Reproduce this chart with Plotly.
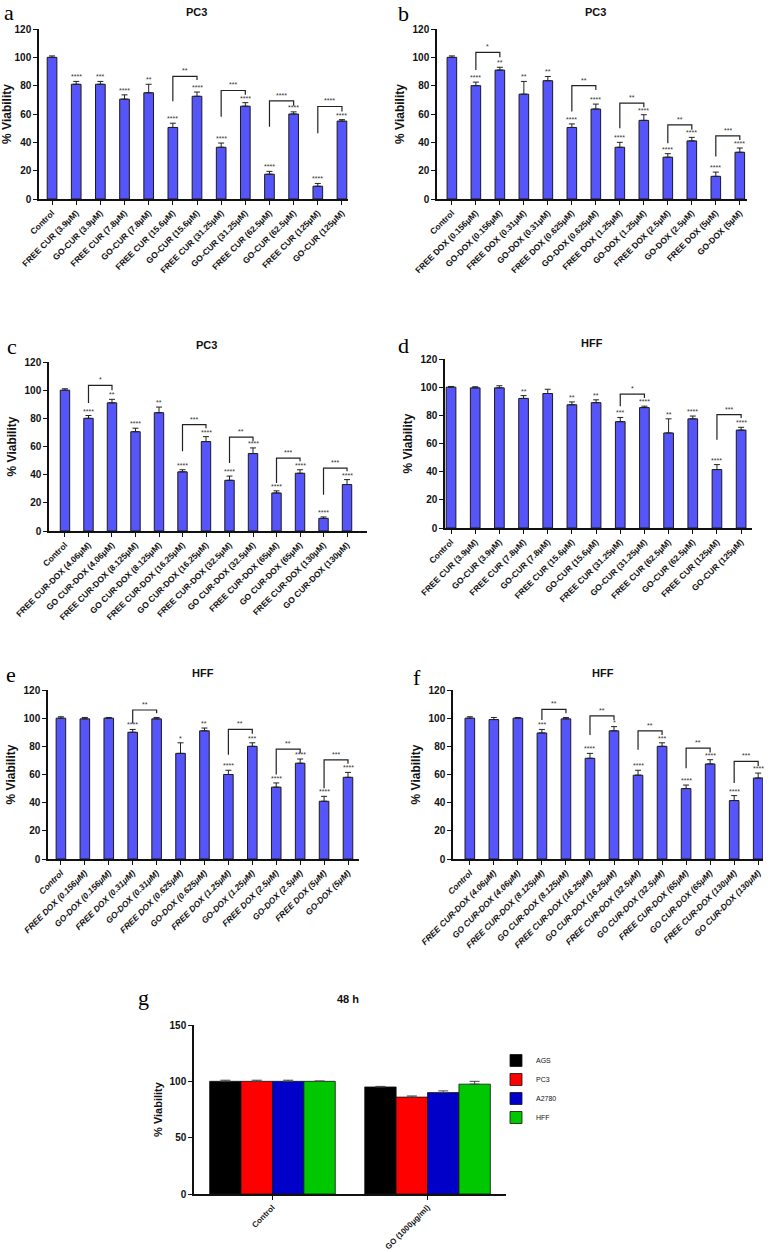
import plotly.graph_objects as go

W, H = 770, 1252

# ---------------- category labels ----------------
labels_cur = ["Control", "FREE CUR (3.9μM)", "GO-CUR (3.9μM)", "FREE CUR (7.8μM)", "GO-CUR (7.8μM)",
              "FREE CUR (15.6μM)", "GO-CUR (15.6μM)", "FREE CUR (31.25μM)", "GO-CUR (31.25μM)",
              "FREE CUR (62.5μM)", "GO-CUR (62.5μM)", "FREE CUR (125μM)", "GO-CUR (125μM)"]
labels_dox = ["Control", "FREE DOX (0.156μM)", "GO-DOX (0.156μM)", "FREE DOX (0.31μM)", "GO-DOX (0.31μM)",
              "FREE DOX (0.625μM)", "GO-DOX (0.625μM)", "FREE DOX (1.25μM)", "GO-DOX (1.25μM)",
              "FREE DOX (2.5μM)", "GO-DOX (2.5μM)", "FREE DOX (5μM)", "GO-DOX (5μM)"]
labels_cd = ["Control", "FREE CUR-DOX (4.06μM)", "GO CUR-DOX (4.06μM)", "FREE CUR-DOX (8.125μM)",
             "GO CUR-DOX (8.125μM)", "FREE CUR-DOX (16.25μM)", "GO CUR-DOX (16.25μM)",
             "FREE CUR-DOX (32.5μM)", "GO CUR-DOX (32.5μM)", "FREE CUR-DOX (65μM)", "GO CUR-DOX (65μM)",
             "FREE CUR-DOX (130μM)", "GO CUR-DOX (130μM)"]

# ---------------- panel a: PC3, CUR ----------------
a_vals = [100, 81, 81, 70.5, 75, 50.5, 72.5, 36.5, 65.5, 17.5, 60, 9, 55]
a_err = [1, 2, 2, 3, 6, 3, 3, 3, 2.5, 2, 1.5, 2, 1]
a_stars = ["", "****", "***", "****", "**", "****", "****", "****", "****", "****", "****", "****", "****"]
a_brackets = [(5, 6, "**", 86.5, 69, 84), (7, 8, "***", 76.6, 58, 73.6),
              (9, 10, "****", 69.3, 51, 65.8), (11, 12, "****", 65.3, 46.4, 61.8)]

# ---------------- panel b: PC3, DOX ----------------
b_vals = [100, 80, 91, 74, 83.5, 50.5, 63.5, 36.5, 55.5, 29.5, 41, 16, 33]
b_err = [1, 2.5, 2, 9, 3, 2.5, 3.5, 3.5, 4, 2.5, 2.5, 3, 3]
b_stars = ["", "****", "**", "**", "**", "****", "****", "****", "****", "****", "****", "****", "****"]
b_brackets = [(1, 2, "*", 103.5, 91, 100), (5, 6, "**", 80, 61.8, 77), (7, 8, "**", 67.7, 50, 64.8),
              (9, 10, "**", 52.3, 39.4, 48.8), (11, 12, "***", 44.6, 30, 41.7)]

# ---------------- panel c: PC3, CUR-DOX ----------------
c_vals = [100, 80, 91, 70.5, 84, 42, 63.5, 36, 55, 27, 41, 9, 33]
c_err = [1, 2, 2.5, 2.5, 4, 1.5, 3.5, 3, 4, 1.5, 2.5, 1, 3.5]
c_stars = ["", "****", "**", "****", "**", "****", "****", "****", "****", "****", "****", "****", "****"]
c_brackets = [(1, 2, "*", 103.4, 90.9, 100), (5, 6, "***", 75.5, 56.6, 73), (7, 8, "**", 66.7, 48.3, 63.7),
              (9, 10, "***", 51.8, 34, 49.5), (11, 12, "***", 44.7, 25.8, 42.4)]

# ---------------- panel d: HFF, CUR ----------------
d_vals = [100, 99.5, 99.5, 92, 95.5, 87.5, 89, 75.5, 85.5, 67.5, 77.5, 41.5, 69.5]
d_err = [0.5, 0.8, 1.5, 2, 3, 2, 2, 3, 1, 10, 2, 3.5, 2]
d_stars = ["", "", "", "**", "", "**", "**", "***", "****", "**", "****", "****", "****"]
d_brackets = [(7, 8, "*", 95.1, 86.4, 92.3), (11, 12, "***", 80.5, 62.7, 78.1)]

# ---------------- panel e: HFF, DOX ----------------
e_vals = [100, 99.5, 100, 90, 99.5, 75, 91, 60, 80, 51, 68, 41, 58]
e_err = [1, 1, 0.5, 2, 1, 7.5, 2, 3, 2.5, 3, 3, 3.5, 3.5]
e_stars = ["", "", "", "****", "", "*", "**", "****", "***", "****", "****", "****", "****"]
e_brackets = [(3, 4, "**", 105.8, 96.4, 103.5), (7, 8, "**", 92.1, 74, 89),
              (9, 10, "**", 78, 60, 75), (11, 12, "***", 70.4, 50.3, 67.6)]

# ---------------- panel f: HFF, CUR-DOX ----------------
f_vals = [100, 99, 100, 89.5, 99.5, 71.5, 91, 59.5, 80, 50, 67.5, 41.5, 57.5]
f_err = [1, 1.5, 0.5, 2.5, 1, 3.5, 3, 3.5, 2.5, 2.5, 3, 3.5, 3.5]
f_stars = ["", "", "", "***", "", "****", "*", "****", "***", "****", "****", "****", "****"]
f_brackets = [(3, 4, "**", 106.3, 98.7, 103.5), (5, 6, "**", 101.6, 88, 98.7), (7, 8, "**", 91, 77.5, 88),
              (9, 10, "**", 78.7, 64.5, 75.6), (11, 12, "***", 69.3, 54, 66)]

# ---------------- panel g: 48 h ----------------
g_groups = ["Control", "GO (1000μg/ml)"]
g_series = ["AGS", "PC3", "A2780", "HFF"]
g_vals = [[100, 95], [100, 86], [100, 90], [100, 97.5]]
g_err = [[1, 0.5], [1, 1], [1, 1.5], [0.3, 2.5]]
g_colors = ["#000000", "#ff0000", "#0000c8", "#00c800"]

# ---------------- layout helpers ----------------
def fx(p):
    return p / W

def fy(p):
    return 1 - p / H

BLUE = "#5555fa"
FONT = "Liberation Sans, Arial, sans-serif"
SERIF = "Liberation Serif, Times New Roman, serif"
INK = "#111111"

panels = [
    dict(k=1, letter="a", title="PC3", labels=labels_cur, vals=a_vals, err=a_err, stars=a_stars, br=a_brackets,
         px=(39, 348), py=(29, 199), xr=[-0.54, 12.25], tpos=(197, 12), lpos=(9, 12), italic=False),
    dict(k=2, letter="b", title="PC3", labels=labels_dox, vals=b_vals, err=b_err, stars=b_stars, br=b_brackets,
         px=(437, 747), py=(29, 199), xr=[-0.62, 12.3], tpos=(595, 12), lpos=(403, 14), italic=False),
    dict(k=3, letter="c", title="PC3", labels=labels_cd, vals=c_vals, err=c_err, stars=c_stars, br=c_brackets,
         px=(49, 367), py=(362, 531), xr=[-0.68, 12.85], tpos=(207, 345), lpos=(12, 346), italic=False),
    dict(k=4, letter="d", title="HFF", labels=labels_cur, vals=d_vals, err=d_err, stars=d_stars, br=d_brackets,
         px=(445, 752), py=(359, 528), xr=[-0.25, 12.45], tpos=(592, 343), lpos=(403, 345), italic=False),
    dict(k=5, letter="e", title="HFF", labels=labels_dox, vals=e_vals, err=e_err, stars=e_stars, br=e_brackets,
         px=(48, 359), py=(690, 859), xr=[-0.54, 12.46], tpos=(203, 673), lpos=(11, 674), italic=True),
    dict(k=6, letter="f", title="HFF", labels=labels_cd, vals=f_vals, err=f_err, stars=f_stars, br=f_brackets,
         px=(453, 763), py=(690, 859), xr=[-0.7, 12.2], tpos=(603, 673), lpos=(417, 677), italic=True),
]

fig = go.Figure()
annotations = []
layout = {}

for p in panels:
    k = p["k"]
    xa, ya = f"x{k}", f"y{k}"
    n = len(p["vals"])
    idx = list(range(n))
    fig.add_trace(go.Bar(
        x=idx, y=p["vals"], width=0.4, xaxis=xa, yaxis=ya, showlegend=False,
        marker=dict(color=BLUE, line=dict(color="#1a1a1a", width=1)),
        error_y=dict(type="data", symmetric=False, array=p["err"], arrayminus=[0] * n,
                     color="#222222", thickness=1, width=3),
    ))
    # stars above bars
    for i, (v, e, s) in enumerate(zip(p["vals"], p["err"], p["stars"])):
        if s:
            annotations.append(dict(x=i, y=v + e, xref=xa, yref=ya, text=s, showarrow=False,
                                    yanchor="bottom", yshift=-1,
                                    font=dict(size=7, color="#333333", family=FONT)))
    # brackets
    for (i, j, s, top, lb, rb) in p["br"]:
        fig.add_trace(go.Scatter(x=[i, i, j, j], y=[lb, top, top, rb], mode="lines", xaxis=xa, yaxis=ya,
                                 showlegend=False, hoverinfo="skip",
                                 line=dict(color="#222222", width=1.2)))
        annotations.append(dict(x=(i + j) / 2, y=top, xref=xa, yref=ya, text=s, showarrow=False,
                                yanchor="bottom", yshift=0,
                                font=dict(size=7, color="#333333", family=FONT)))
    ticktext = [f"<i>{t}</i>" for t in p["labels"]] if p["italic"] else p["labels"]
    layout[f"xaxis{k}"] = dict(
        domain=[fx(p["px"][0]), fx(p["px"][1])], range=p["xr"], anchor=ya, automargin=False,
        tickmode="array", tickvals=idx, ticktext=ticktext, tickangle=-45,
        tickfont=dict(size=8.5, family=FONT, color=INK, weight="bold"),
        ticks="outside", ticklen=4, tickwidth=1, tickcolor=INK,
        showline=True, linecolor=INK, linewidth=1.5, showgrid=False, zeroline=False,
    )
    layout[f"yaxis{k}"] = dict(
        domain=[fy(p["py"][1]), fy(p["py"][0])], range=[0, 120], anchor=xa, dtick=20, automargin=False,
        tickfont=dict(size=10, family=FONT, color=INK, weight="bold"),
        ticks="outside", ticklen=4, tickwidth=1, tickcolor=INK,
        showline=True, linecolor=INK, linewidth=1.5, showgrid=False, zeroline=False,
        title=dict(text="% Viability", standoff=5,
                   font=dict(size=12, family=FONT, color=INK, weight="bold")),
    )
    annotations.append(dict(x=fx(p["tpos"][0]), y=fy(p["tpos"][1]), xref="paper", yref="paper",
                            text=p["title"], showarrow=False, xanchor="center", yanchor="middle",
                            font=dict(size=11, family=FONT, color=INK, weight="bold")))
    annotations.append(dict(x=fx(p["lpos"][0]), y=fy(p["lpos"][1]), xref="paper", yref="paper",
                            text=p["letter"], showarrow=False, xanchor="center", yanchor="middle",
                            font=dict(size=22, family=SERIF, color="#000000")))

# ---------------- panel g ----------------
for name, vals, errs, col in zip(g_series, g_vals, g_err, g_colors):
    fig.add_trace(go.Bar(
        x=g_groups, y=vals, name=name, xaxis="x7", yaxis="y7",
        marker=dict(color=col, line=dict(color=INK, width=0.8)),
        error_y=dict(type="data", symmetric=False, array=errs, arrayminus=[0] * len(errs),
                     color="#444444", thickness=1, width=5),
    ))

layout["xaxis7"] = dict(
    domain=[fx(194), fx(506)], range=[-0.506, 1.506], anchor="y7", type="category", automargin=False,
    tickangle=-45, tickfont=dict(size=8, family=FONT, color=INK, weight="bold"),
    ticks="outside", ticklen=4, tickcolor=INK,
    showline=True, linecolor=INK, linewidth=1.5, showgrid=False, zeroline=False,
)
layout["yaxis7"] = dict(
    domain=[fy(1194), fy(1025)], range=[0, 150], anchor="x7", dtick=50, automargin=False,
    tickfont=dict(size=10, family=FONT, color=INK, weight="bold"),
    ticks="outside", ticklen=4, tickcolor=INK,
    showline=True, linecolor=INK, linewidth=1.5, showgrid=False, zeroline=False,
    title=dict(text="% Viability", standoff=5,
               font=dict(size=11, family=FONT, color=INK, weight="bold")),
)
annotations.append(dict(x=fx(348), y=fy(1007), xref="paper", yref="paper", text="48 h", showarrow=False,
                        font=dict(size=11, family=FONT, color=INK, weight="bold")))
annotations.append(dict(x=fx(136), y=fy(1012), xref="paper", yref="paper", text="g", showarrow=False,
                        font=dict(size=22, family=SERIF, color="#000000")))

fig.update_layout(
    width=W, height=H, margin=dict(l=0, r=0, t=0, b=0, autoexpand=False),
    paper_bgcolor="white", plot_bgcolor="white",
    barmode="group", bargap=0.19, bargroupgap=0,
    annotations=annotations,
    legend=dict(x=fx(496), y=fy(1046), xanchor="left", yanchor="top",
                font=dict(size=7, family=FONT, color=INK),
                itemwidth=30, tracegroupgap=0, bgcolor="rgba(0,0,0,0)"),
    font=dict(family=FONT),
    **layout,
)

fig.write_html("out.html",
               config={"displayModeBar": False},
               post_script="document.body.style.margin='0';document.body.style.padding='0';"
                           "document.body.style.overflow='hidden';")
